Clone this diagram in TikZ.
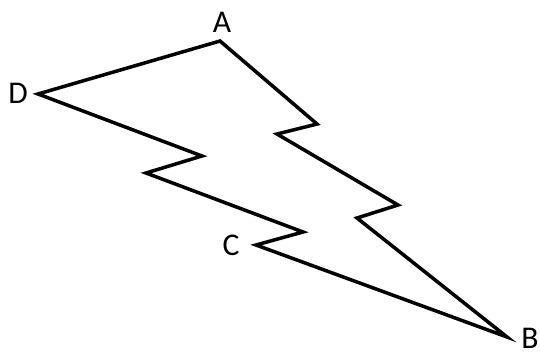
\documentclass[tikz,border=0pt]{standalone}
\usepackage{fontspec}
\setmainfont{Carlito}
\begin{document}
\begin{tikzpicture}[x=0.02cm, y=-0.02cm, line width=2pt, line join=miter]
  \useasboundingbox (0,0) rectangle (540,358);
  % Vertici
  \coordinate (A) at (220,41);
  \coordinate (D) at (38,94);
  \coordinate (p1) at (202,156);
  \coordinate (p2) at (146,173);
  \coordinate (p3) at (303,232);
  \coordinate (C) at (256,245);
  \coordinate (B) at (507,337);
  \coordinate (p4) at (357,218);
  \coordinate (p5) at (398,205);
  \coordinate (p6) at (277,134);
  \coordinate (p7) at (317,124);

  % Etichette
  \node[font=\fontsize{18}{20}\selectfont] (lA) at (222,22) {A};
  \node[font=\fontsize{18}{20}\selectfont] (lD) at (18,93) {D};
  \node[font=\fontsize{18}{20}\selectfont] (lC) at (231,245) {C};
  \node[font=\fontsize{18}{20}\selectfont] (lB) at (530,338) {B};

  % Contorno
  \draw (A) -- (D) -- (p1) -- (p2) -- (p3) -- (C) -- (B) -- (p4) -- (p5) -- (p6) -- (p7) -- cycle;
\end{tikzpicture}
\end{document}
